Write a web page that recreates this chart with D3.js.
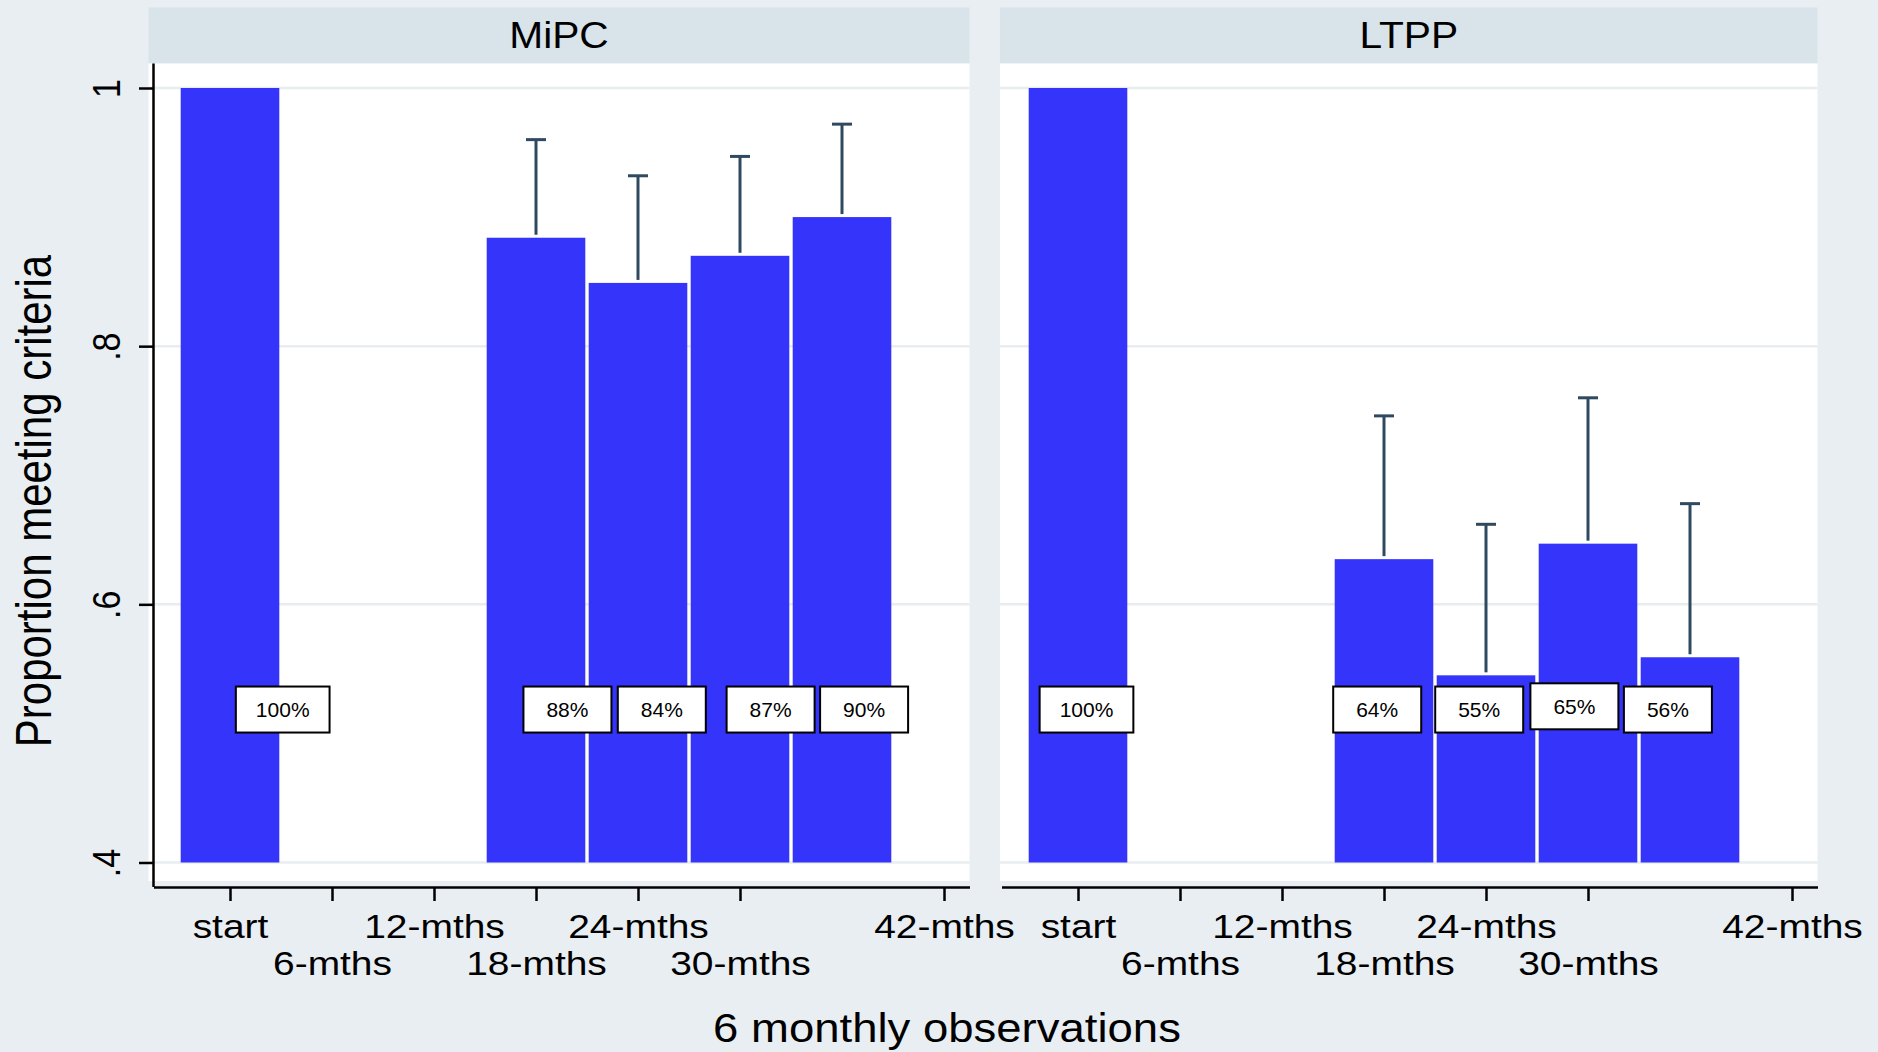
<!DOCTYPE html>
<html>
<head>
<meta charset="utf-8">
<script src="https://cdn.jsdelivr.net/npm/d3@7"></script>
<style>
  body { margin: 0; background: #e8eef2; }
  text { font-family: "Liberation Sans", Arial, Helvetica, sans-serif; fill: #000; }
</style>
</head>
<body>
<script>
// months at which a bar is drawn (same for both groups)
const barMonths = [0, 18, 24, 30, 36];

// MiPC group: proportion and upper CI
const mipcProp  = [1.0, 0.884, 0.849, 0.870, 0.900];
const mipcUpper = [null, 0.960, 0.932, 0.947, 0.972];
const mipcLabels = ["100%", "88%", "84%", "87%", "90%"];
const mipcLabelMonth = [3.1, 19.85, 25.4, 31.8, 37.3];
const mipcLabelLevel = [0.5185, 0.5185, 0.5185, 0.5185, 0.5185];

// LTPP group
const ltppProp  = [1.0, 0.635, 0.545, 0.647, 0.559];
const ltppUpper = [null, 0.746, 0.662, 0.760, 0.678];
const ltppLabels = ["100%", "64%", "55%", "65%", "56%"];
const ltppLabelMonth = [0.5, 17.6, 23.6, 29.2, 34.7];
const ltppLabelLevel = [0.5185, 0.5185, 0.5185, 0.521, 0.5185];

// axes
const xTickMonths = [0, 6, 12, 18, 24, 30, 42];
const xTickLabels = ["start", "6-mths", "12-mths", "18-mths", "24-mths", "30-mths", "42-mths"];
const yTickValues = [0.4, 0.6, 0.8, 1];
const yTickLabels = [".4", ".6", ".8", "1"];

const width = 1878, height = 1052;
const panelW = 816;
const axisY = 887;

const panels = [
  {title: "MiPC", x0: 153.5, bgLeft: 148.5, prop: mipcProp, upper: mipcUpper,
   labels: mipcLabels, labelMonth: mipcLabelMonth, labelLevel: mipcLabelLevel, yAxis: true},
  {title: "LTPP", x0: 1001.5, bgLeft: 1000, prop: ltppProp, upper: ltppUpper,
   labels: ltppLabels, labelMonth: ltppLabelMonth, labelLevel: ltppLabelLevel, yAxis: false}
];

const y = d3.scaleLinear().domain([0.4, 1]).range([862.5, 88]);

const svg = d3.select("body").append("svg")
    .attr("width", width)
    .attr("height", height);

svg.append("rect")
    .attr("width", width)
    .attr("height", height)
    .attr("fill", "#e8eef2");

panels.forEach(p => {
  const x = d3.scaleLinear().domain([-4.5, 43.5]).range([p.x0, p.x0 + panelW]);
  const right = p.x0 + panelW;
  const g = svg.append("g");

  // strip
  g.append("rect")
      .attr("x", p.bgLeft).attr("y", 7.5)
      .attr("width", right - p.bgLeft).attr("height", 56)
      .attr("fill", "#d8e3ea");
  g.append("text")
      .attr("transform", `translate(${(p.bgLeft + right) / 2},47.5) scale(1.1,1)`)
      .attr("text-anchor", "middle")
      .attr("font-size", 37)
      .text(p.title);

  // plot region
  g.append("rect")
      .attr("x", p.bgLeft).attr("y", 63.5)
      .attr("width", right - p.bgLeft).attr("height", 881 - 63.5)
      .attr("fill", "#fff");

  g.append("g")
    .selectAll("line")
    .data(yTickValues)
    .join("line")
      .attr("x1", p.bgLeft).attr("x2", right)
      .attr("y1", d => y(d)).attr("y2", d => y(d))
      .attr("stroke", "#e8edf0")
      .attr("stroke-width", 2.5);

  // bars
  const rows = barMonths.map((m, i) => ({m, v: p.prop[i], hi: p.upper[i]}));
  const bw = x(5.8) - x(0);
  g.append("g")
    .selectAll("rect")
    .data(rows)
    .join("rect")
      .attr("x", d => x(d.m) - bw / 2)
      .attr("y", d => y(d.v))
      .attr("width", bw)
      .attr("height", d => y(0.4) - y(d.v))
      .attr("fill", "#3434fb");

  // upper CI caps
  const ci = rows.filter(d => d.hi != null);
  const eg = g.append("g").attr("stroke", "#2f4a60").attr("stroke-width", 3);
  eg.selectAll(".stem")
    .data(ci)
    .join("line")
      .attr("class", "stem")
      .attr("x1", d => x(d.m)).attr("x2", d => x(d.m))
      .attr("y1", d => y(d.v) - 3).attr("y2", d => y(d.hi));
  eg.selectAll(".cap")
    .data(ci)
    .join("line")
      .attr("class", "cap")
      .attr("x1", d => x(d.m) - 10).attr("x2", d => x(d.m) + 10)
      .attr("y1", d => y(d.hi)).attr("y2", d => y(d.hi));

  // value labels in boxes
  const lab = g.append("g")
    .selectAll("g")
    .data(p.labels.map((t, i) => ({t, m: p.labelMonth[i], v: p.labelLevel[i]})))
    .join("g")
      .attr("transform", d => `translate(${x(d.m)},${y(d.v)})`);
  lab.append("rect")
      .attr("y", -23).attr("height", 46)
      .attr("fill", "#fff")
      .attr("stroke", "#000")
      .attr("stroke-width", 2);
  lab.append("text")
      .attr("text-anchor", "middle")
      .attr("y", 7.5)
      .attr("font-size", 21)
      .text(d => d.t);
  lab.each(function() {
    const tw = d3.select(this).select("text").node().getComputedTextLength();
    const w = Math.max(88, tw + 40);
    d3.select(this).select("rect").attr("x", -w / 2).attr("width", w);
  });

  // x axis
  const xAxis = g.append("g")
      .attr("transform", `translate(0,${axisY})`)
      .call(d3.axisBottom(x)
        .tickValues(xTickMonths)
        .tickFormat((d, i) => xTickLabels[i])
        .tickSize(14)
        .tickSizeOuter(0));
  xAxis.select(".domain").attr("stroke", "#000").attr("stroke-width", 2.5);
  xAxis.selectAll(".tick line").attr("stroke", "#000").attr("stroke-width", 2.5);
  xAxis.selectAll(".tick text")
      .attr("y", 0).attr("dy", null)
      .attr("fill", "#000")
      .attr("font-size", 33)
      .attr("transform", (d, i) => `translate(0,${i % 2 ? 88 : 51}) scale(1.18,1)`);

  if (p.yAxis) {
    const yAxis = g.append("g")
        .attr("transform", `translate(${p.x0},0)`)
        .call(d3.axisLeft(y)
          .tickValues(yTickValues)
          .tickFormat((d, i) => yTickLabels[i])
          .tickSize(14.5)
          .tickSizeOuter(0));
    yAxis.select(".domain").remove();
    yAxis.append("line")
        .attr("y1", 63.5).attr("y2", axisY)
        .attr("stroke", "#000").attr("stroke-width", 2.5);
    yAxis.selectAll(".tick line").attr("stroke", "#000").attr("stroke-width", 2.5);
    yAxis.selectAll(".tick text")
        .attr("x", 0).attr("y", 0).attr("dy", null)
        .attr("fill", "#000")
        .attr("font-size", 34)
        .attr("text-anchor", "middle")
        .attr("transform", `translate(${120 - p.x0},0) scale(1.12,1) rotate(-90)`);
  }
});

// axis titles
svg.append("text")
    .attr("transform", "translate(947,1042) scale(1.11,1)")
    .attr("text-anchor", "middle")
    .attr("font-size", 41)
    .text("6 monthly observations");

svg.append("text")
    .attr("transform", "translate(51,501) scale(1.2,1) rotate(-90)")
    .attr("text-anchor", "middle")
    .attr("font-size", 42)
    .text("Proportion meeting criteria");
</script>
</body>
</html>
